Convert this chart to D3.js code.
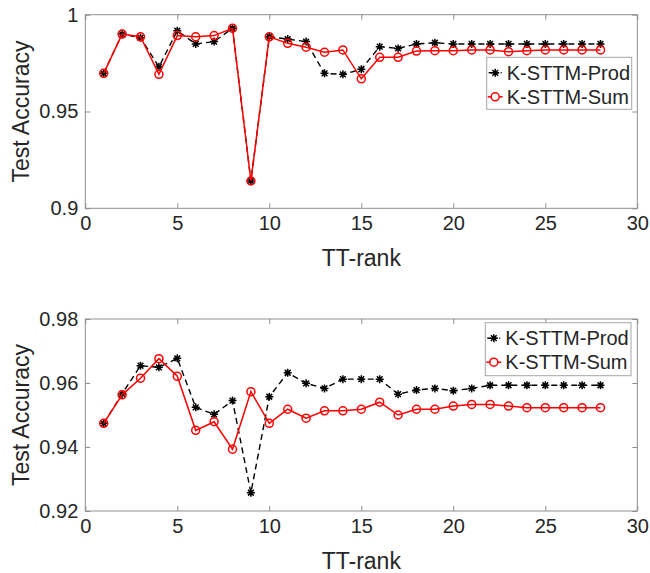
<!DOCTYPE html>
<html><head><meta charset="utf-8">
<script src="https://cdn.jsdelivr.net/npm/d3@7"></script>
<style>body{margin:0;background:#fff}svg{display:block}text{font-family:"Liberation Sans",Arial,Helvetica,sans-serif;fill:#262626}</style>
</head><body>
<script>
const ranks = d3.range(1, 29);
const topProd = [0.9697,0.9900,0.9881,0.9731,0.9917,0.9849,0.9861,0.9930,0.9141,0.9886,0.9874,0.9861,0.9697,0.9692,0.9718,0.9835,0.9826,0.9849,0.9855,0.9849,0.9849,0.9849,0.9849,0.9849,0.9849,0.9849,0.9849,0.9849];
const topSum  = [0.9697,0.9900,0.9886,0.9692,0.9892,0.9886,0.9892,0.9930,0.9141,0.9886,0.9852,0.9832,0.9806,0.9818,0.9669,0.9780,0.9780,0.9812,0.9814,0.9814,0.9818,0.9818,0.9809,0.9814,0.9818,0.9818,0.9818,0.9818];
const botProd = [0.9474,0.9566,0.9654,0.9649,0.9677,0.9524,0.9502,0.9545,0.9257,0.9557,0.9632,0.9599,0.9583,0.9612,0.9612,0.9612,0.9565,0.9578,0.9583,0.9576,0.9583,0.9593,0.9593,0.9593,0.9593,0.9593,0.9593,0.9593];
const botSum  = [0.9474,0.9563,0.9615,0.9676,0.9621,0.9452,0.9479,0.9393,0.9573,0.9474,0.9518,0.9490,0.9513,0.9513,0.9518,0.9540,0.9500,0.9518,0.9518,0.9528,0.9533,0.9533,0.9528,0.9523,0.9523,0.9523,0.9523,0.9523];
const xTicks = [0,5,10,15,20,25,30];
const topYTicks = [0.9,0.95,1];
const botYTicks = [0.92,0.94,0.96,0.98];
const seriesNames = ["K-STTM-Prod","K-STTM-Sum"];

const W = 650, H = 573;
const svg = d3.select("body").append("svg").attr("width", W).attr("height", H);
const axisColor = "#8f8f8f";

function starPath(r){
  const d = r*0.72;
  return `M${-r},0L${r},0M0,${-r}L0,${r}M${-d},${-d}L${d},${d}M${-d},${d}L${d},${-d}`;
}

function panel(cfg){
  const {left, right, top, bottom, yDomain, yTicks, prod, sum, legend, xlabY, tickLabY} = cfg;
  const x = d3.scaleLinear().domain([0,30]).range([left,right]);
  const y = d3.scaleLinear().domain(yDomain).range([bottom,top]);
  const g = svg.append("g");
  // box
  g.append("rect").attr("x",left).attr("y",top).attr("width",right-left).attr("height",bottom-top)
    .attr("fill","none").attr("stroke",axisColor).attr("stroke-width",1);
  const fmt = v => String(+v.toFixed(2));
  // axes with inward ticks
  const ax = [
    [d3.axisBottom(x).tickValues(xTicks).tickSize(-5).tickPadding(8), `translate(0,${bottom})`, true],
    [d3.axisTop(x).tickValues(xTicks).tickSize(-5).tickFormat(""), `translate(0,${top})`, false],
    [d3.axisLeft(y).tickValues(yTicks).tickSize(-5).tickPadding(7).tickFormat(fmt), `translate(${left},0)`, true],
    [d3.axisRight(y).tickValues(yTicks).tickSize(-5).tickFormat(""), `translate(${right},0)`, false]
  ];
  ax.forEach(([a, tr]) => {
    const ag = g.append("g").attr("transform", tr).call(a);
    ag.select(".domain").remove();
    ag.selectAll(".tick line").attr("stroke", axisColor);
    ag.selectAll(".tick text").style("font-size","20px").attr("fill","#262626");
  });
  // x label
  g.append("text").attr("x",(left+right)/2).attr("y",xlabY).attr("text-anchor","middle")
    .style("font-size","23px").text("TT-rank");
  g.append("text").attr("transform",`translate(29,${(top+bottom)/2}) rotate(-90)`)
    .attr("text-anchor","middle").style("font-size","23px").text("Test Accuracy");

  const line = d3.line().x((d,i)=>x(ranks[i])).y(d=>y(d));
  g.append("path").datum(prod).attr("d",line).attr("fill","none").attr("stroke","#000")
    .attr("stroke-width",1.4).attr("stroke-dasharray","6,4");
  g.selectAll(".star").data(prod).enter().append("path")
    .attr("transform",(d,i)=>`translate(${x(ranks[i])},${y(d)})`)
    .attr("d",starPath(4)).attr("stroke","#000").attr("stroke-width",1.5).attr("fill","none");
  g.append("path").datum(sum).attr("d",line).attr("fill","none").attr("stroke","#ff0000")
    .attr("stroke-width",1.5);
  g.selectAll(".circ").data(sum).enter().append("circle")
    .attr("cx",(d,i)=>x(ranks[i])).attr("cy",d=>y(d)).attr("r",4)
    .attr("fill","none").attr("stroke","#ff0000").attr("stroke-width",1.5);

  // legend
  const L = legend;
  const lg = g.append("g");
  lg.append("rect").attr("x",L.x).attr("y",L.y).attr("width",L.w).attr("height",L.h)
    .attr("fill","#fff").attr("stroke","#a6a6a6").attr("stroke-width",1);
  const rows = [L.y+15.5, L.y+39.5];
  const mx = L.x + 8.5;
  lg.append("line").attr("x1",L.x+2).attr("x2",L.x+15).attr("y1",rows[0]).attr("y2",rows[0])
    .attr("stroke","#000").attr("stroke-width",1.4).attr("stroke-dasharray","4,2");
  lg.append("path").attr("transform",`translate(${mx},${rows[0]})`).attr("d",starPath(4))
    .attr("stroke","#000").attr("stroke-width",1.5);
  lg.append("line").attr("x1",L.x+1).attr("x2",L.x+16).attr("y1",rows[1]).attr("y2",rows[1])
    .attr("stroke","#ff0000").attr("stroke-width",1.5);
  lg.append("circle").attr("cx",mx).attr("cy",rows[1]).attr("r",4)
    .attr("fill","#fff").attr("stroke","#ff0000").attr("stroke-width",1.5);
  seriesNames.forEach((n,i)=>{
    lg.append("text").attr("x",L.x+20).attr("y",rows[i]+7).style("font-size","20px").text(n);
  });
}

panel({left:85.3,right:637.3,top:14.7,bottom:208.3,yDomain:[0.9,1],yTicks:topYTicks,
  prod:topProd,sum:topSum,legend:{x:486.7,y:57.3,w:145,h:52},xlabY:266});
panel({left:85.3,right:637.3,top:319,bottom:511,yDomain:[0.92,0.98],yTicks:botYTicks,
  prod:botProd,sum:botSum,legend:{x:485.3,y:322.7,w:145.7,h:53},xlabY:569});
</script>
</body></html>
